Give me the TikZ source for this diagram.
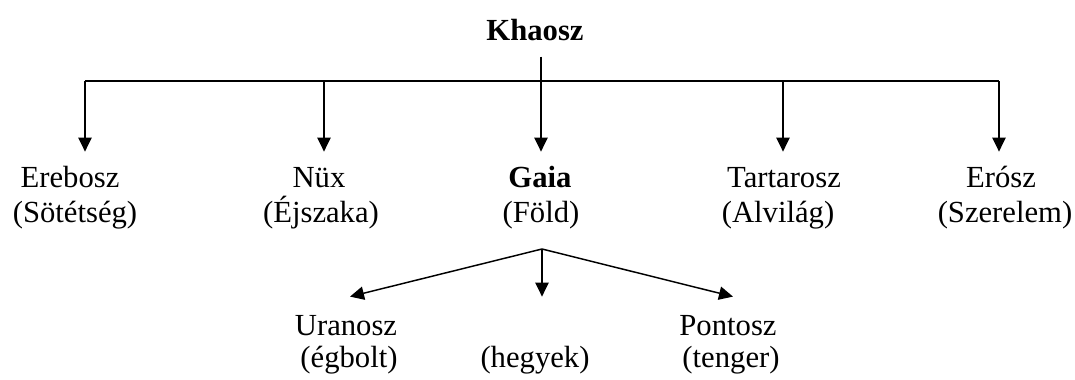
\documentclass[tikz,border=0pt]{standalone}
\usepackage{fontspec}
\setmainfont{Liberation Serif}
\usetikzlibrary{arrows.meta}

\begin{document}
\begin{tikzpicture}[x=0.75pt, y=-0.75pt, line width=1.1pt,
		>={Triangle[width=10pt,length=10.5pt]},
		nev/.style={font=\fontsize{23}{28}\selectfont, anchor=base, inner sep=2pt, text height=15pt, text depth=4pt}]
			% Margini del disegno
			\useasboundingbox (0,0) rectangle (1075,379);
			
			% --- Nomi ---
			\node[nev, font=\fontsize{23}{28}\selectfont\bfseries] (khaosz) at (535,40) {Khaosz};
			
			\node[nev] (erebosz) at (70,187) {Erebosz};
			\node[nev] (sotetseg) at (75,222) {(Sötétség)};
			\node[nev] (nux) at (319,187) {Nüx};
			\node[nev] (ejszaka) at (321,222) {(Éjszaka)};
			\node[nev, font=\fontsize{23}{28}\selectfont\bfseries] (gaia) at (540,187) {Gaia};
			\node[nev] (fold) at (541,222) {(Föld)};
			\node[nev] (tartarosz) at (784,187) {Tartarosz};
			\node[nev] (alvilag) at (778,222) {(Alvilág)};
			\node[nev] (erosz) at (1001,187) {Erósz};
			\node[nev] (szerelem) at (1005,222) {(Szerelem)};
			
			\node[nev] (uranosz) at (346,335) {Uranosz};
			\node[nev] (egbolt) at (349,367) {(égbolt)};
			\node[nev] (hegyek) at (535,367) {(hegyek)};
			\node[nev] (pontosz) at (728,335) {Pontosz};
			\node[nev] (tenger) at (731,367) {(tenger)};
			
			% --- Frecce da Khaosz ---
			\coordinate (busL) at (85,81);
			\coordinate (busR) at (999,81);
			\coordinate (bus2) at (324,81);
			\coordinate (bus4) at (783,81);
			\draw (busL) -- (busR);
			\draw[->] ([shift={(6,8)}]khaosz.south) -- ([shift={(1,-12)}]gaia.north);
			\draw[->] (busL) -- ([yshift=9pt]busL |- erebosz.north);
			\draw[->] (bus2) -- ([yshift=9pt]bus2 |- nux.north);
			\draw[->] (bus4) -- ([yshift=9pt]bus4 |- tartarosz.north);
			\draw[->] (busR) -- ([yshift=9pt]busR |- erosz.north);
			
			% --- Frecce da Gaia ---
			\coordinate (split) at (542,249);
			\draw[->] (split) -- ([shift={(4,-15)}]uranosz.north);
			\draw[->] (split) -- ([shift={(7,-47)}]hegyek.north);
			\draw[->] (split) -- ([shift={(5,-15)}]pontosz.north);
		\end{tikzpicture}
\end{document}
